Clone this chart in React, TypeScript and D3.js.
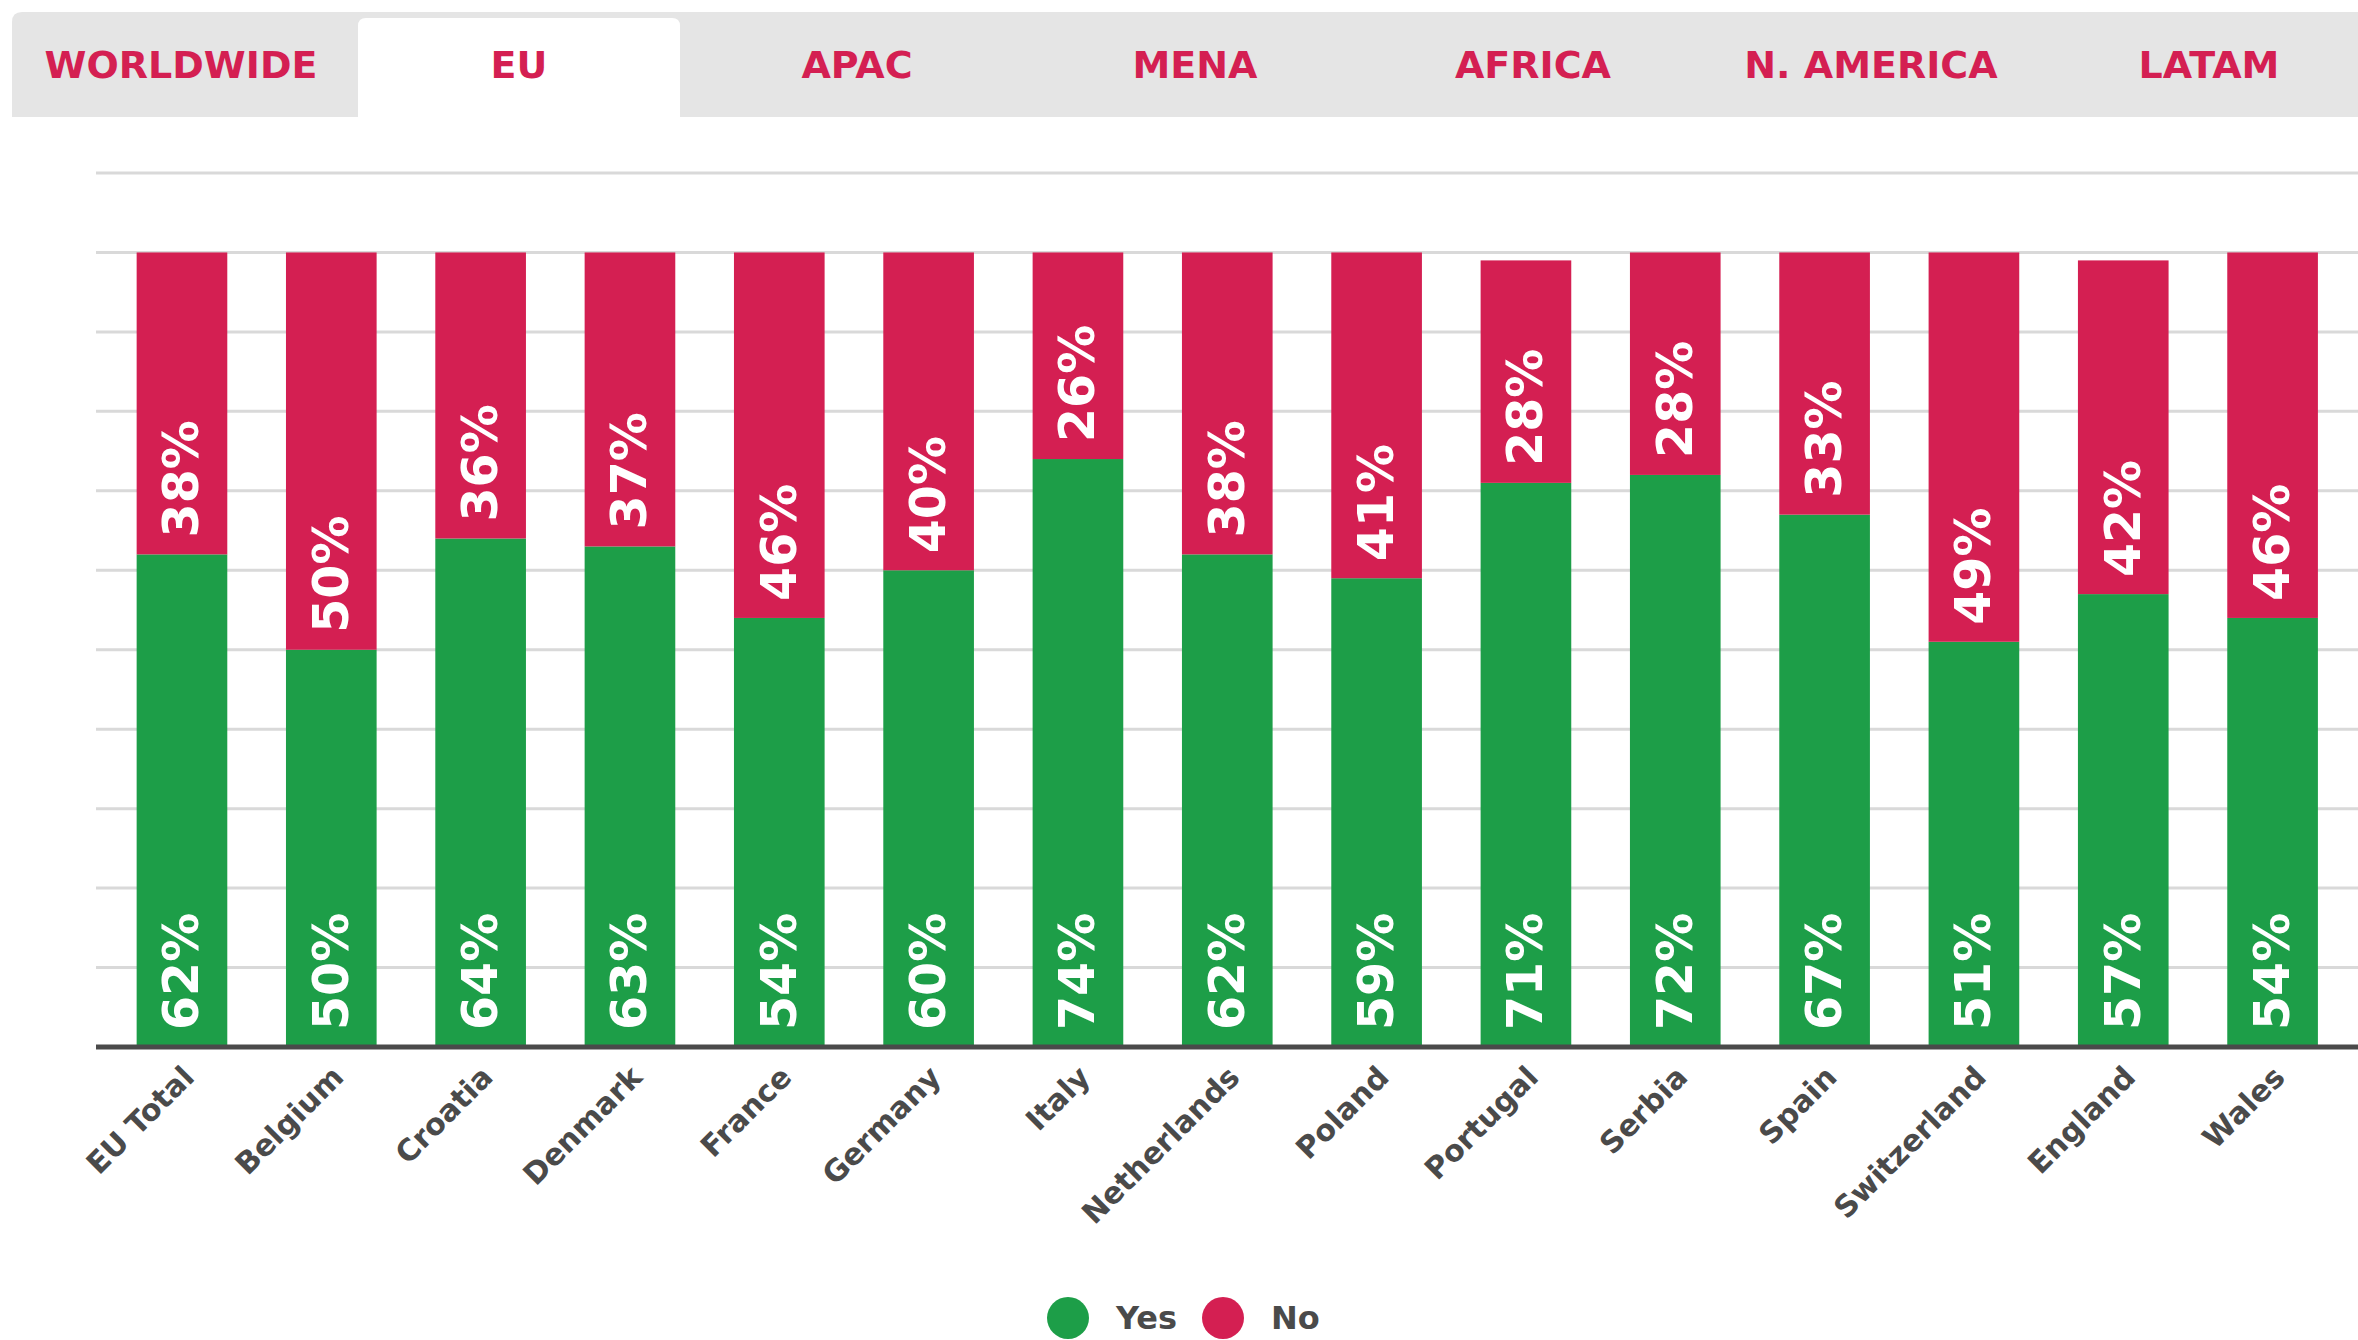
import React from "react";
import * as d3 from "d3";

const tabs = ["WORLDWIDE", "EU", "APAC", "MENA", "AFRICA", "N. AMERICA", "LATAM"];
const activeTab = "EU";
const categories = [
  "EU Total", "Belgium", "Croatia", "Denmark", "France", "Germany", "Italy",
  "Netherlands", "Poland", "Portugal", "Serbia", "Spain", "Switzerland", "England", "Wales",
];
const yesValues = [62, 50, 64, 63, 54, 60, 74, 62, 59, 71, 72, 67, 51, 57, 54];
const noValues = [38, 50, 36, 37, 46, 40, 26, 38, 41, 28, 28, 33, 49, 42, 46];
const gridTicks = [10, 20, 30, 40, 50, 60, 70, 80, 90, 100, 110];
const seriesNames = ["Yes", "No"];

const GREEN = "#1D9E48";
const RED = "#D41F52";
const DARK = "#4A4A4A";
const FONT = "'DejaVu Sans', sans-serif";

export default function App() {
  const W = 2358;
  const H = 1340;
  const x = d3
    .scaleBand<string>()
    .domain(categories)
    .range([107.3, 107.3 + 15 * 149.33])
    .paddingInner(0.393)
    .paddingOuter(0.1965);
  const y = d3.scaleLinear().domain([0, 110]).range([1047, 173]);
  const bw = x.bandwidth();

  const tabScale = d3.scaleBand<string>().domain(tabs).range([12, 12 + 7 * 338]);
  const color = d3.scaleOrdinal<string, string>().domain(seriesNames).range([GREEN, RED]);

  return (
    <div style={{ position: "absolute", left: 0, top: 0 }}>
      <svg width={W} height={H} style={{ display: "block", background: "#fff" }}>
        {/* tab bar */}
        <path d={`M12,117 L12,22 Q12,12 22,12 L${W},12 L${W},117 Z`} fill="#E5E5E5" />
        {tabs.map((t) => {
          const cx = (tabScale(t) as number) + tabScale.bandwidth() / 2;
          const active = t === activeTab;
          return (
            <g key={t}>
              {active && (
                <path
                  d={`M${cx - 161},117 L${cx - 161},26 Q${cx - 161},18 ${cx - 153},18 L${cx + 153},18 Q${cx + 161},18 ${cx + 161},26 L${cx + 161},117 Z`}
                  fill="#fff"
                />
              )}
              <text
                x={cx}
                y={78}
                textAnchor="middle"
                fontFamily={FONT}
                fontWeight={700}
                fontSize={38}
                fill={RED}
              >
                {t}
              </text>
            </g>
          );
        })}

        {/* gridlines */}
        {gridTicks.map((t) => (
          <line key={t} x1={96} x2={W} y1={y(t)} y2={y(t)} stroke="#D9D9D9" strokeWidth={3} />
        ))}

        {/* bars */}
        {categories.map((c, i) => {
          const x0 = x(c) as number;
          const yes = yesValues[i];
          const no = noValues[i];
          return (
            <g key={c}>
              <rect x={x0} y={y(yes)} width={bw} height={y(0) - y(yes)} fill={color("Yes")} />
              <rect x={x0} y={y(yes + no)} width={bw} height={y(yes) - y(yes + no)} fill={color("No")} />
            </g>
          );
        })}

        {/* baseline */}
        <line x1={96} x2={W} y1={y(0)} y2={y(0)} stroke={DARK} strokeWidth={5} />

        {/* value labels */}
        {categories.map((c, i) => {
          const cx = (x(c) as number) + bw / 2;
          const yes = yesValues[i];
          const no = noValues[i];
          const y1 = y(0) - 17;
          const y2 = y(yes) - 17;
          return (
            <g key={c} fontFamily={FONT} fontWeight={700} fontSize={49} fill="#fff">
              <text transform={`translate(${cx},${y1}) rotate(-90)`} dominantBaseline="central" textAnchor="start">
                {yes}%
              </text>
              <text transform={`translate(${cx},${y2}) rotate(-90)`} dominantBaseline="central" textAnchor="start">
                {no}%
              </text>
            </g>
          );
        })}

        {/* category labels */}
        {categories.map((c) => {
          const cx = (x(c) as number) + bw / 2;
          return (
            <text
              key={c}
              transform={`translate(${cx + 14},${y(0) + 32}) rotate(-45)`}
              textAnchor="end"
              fontFamily={FONT}
              fontWeight={700}
              fontSize={30}
              fill={DARK}
            >
              {c}
            </text>
          );
        })}

        {/* legend */}
        {seriesNames.map((s, i) => {
          const lx = 1068 + i * 155;
          return (
            <g key={s}>
              <circle cx={lx} cy={1318} r={21} fill={color(s)} />
              <text x={lx + 48} y={1329} fontFamily={FONT} fontWeight={700} fontSize={32} fill={DARK}>
                {s}
              </text>
            </g>
          );
        })}
      </svg>
    </div>
  );
}
